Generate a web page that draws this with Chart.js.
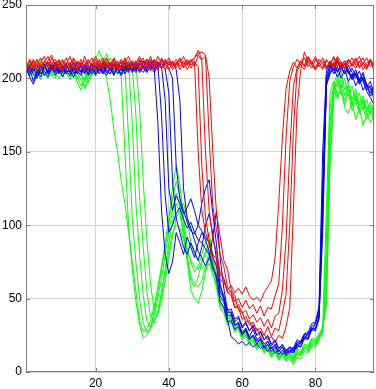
<!DOCTYPE html>
<html>
<head>
<meta charset="utf-8">
<script src="https://cdn.jsdelivr.net/npm/chart.js@4/dist/chart.umd.min.js"></script>
<style>
  html, body { margin: 0; padding: 0; background: #fff; }
  #wrap { width: 376px; height: 389px; }
</style>
</head>
<body>
<div id="wrap"><canvas id="chart"></canvas></div>
<script>
// x runs 1..96, one value per sample
const xTicks = [20, 40, 60, 80];
const yTicks = [0, 50, 100, 150, 200, 250];

// red group
const red1 = [208,212,206,210,214,207,211,205,209,213, 206,210,215,208,204,211,207,213,209,205, 210,214,207,211,206,209,213,208,212,206, 210,215,208,211,205,209,212,207,210,214, 208,211,206,210,213,209,212,150,110,95, 88,78,73,63,61,56,59,54,57,53, 58,52,49,51,48,54,58,62,78,115, 160,193,205,211,207,212,208,214,209,206, 211,207,213,209,215,208,211,206,212,209, 213,207,210,214,208,211];
const red2 = [211,207,213,209,205,212,208,214,210,206, 212,208,205,213,210,207,215,209,206,211, 207,212,209,205,213,210,206,211,215,208, 212,207,210,213,208,211,206,214,209,212, 206,210,214,208,212,207,211,208,140,105, 90,80,77,66,63,54,55,48,50,44, 49,43,46,40,45,38,44,43,52,60, 100,160,198,208,213,209,206,212,210,215, 208,212,207,211,209,214,206,210,213,208, 211,215,209,206,212,208];
const red3 = [205,210,208,213,207,211,215,209,206,212, 209,214,207,211,208,213,206,210,214,208, 213,206,211,209,214,207,212,210,205,211, 208,213,206,210,215,208,211,207,213,209, 212,207,211,215,209,213,208,216,212,150, 110,90,82,68,64,54,52,44,46,40, 42,36,39,34,37,31,36,30,38,40, 56,90,150,195,207,212,209,215,211,207, 213,210,206,212,208,215,211,207,210,214, 209,212,206,210,213,207];
const red4 = [210,206,212,208,211,215,207,210,213,208, 205,211,209,214,207,210,212,206,211,215, 209,207,213,210,208,212,206,214,209,211, 206,210,214,207,212,209,215,210,206,211, 209,213,208,212,206,211,214,219,213,215, 160,113,97,80,72,58,54,44,44,36, 38,32,34,28,30,25,31,24,30,28, 40,53,100,165,205,210,214,208,212,206, 210,214,208,211,207,213,209,212,206,210, 214,208,211,207,213,209];
const red5 = [207,213,209,205,210,208,212,216,207,210, 213,207,211,206,212,209,205,212,208,213, 206,210,214,208,211,206,209,213,207,212, 210,206,211,209,213,207,210,212,208,206, 211,209,213,207,210,212,214,217,218,216, 200,150,108,92,76,70,56,52,42,41, 34,35,28,30,24,26,22,24,20,25, 23,31,44,110,180,206,218,211,207,213, 209,206,212,210,214,208,211,207,213,210, 207,211,214,208,212,205];

// blue group
const blue1 = [203,207,198,205,209,202,206,210,204,208, 201,206,210,203,207,205,209,202,206,204, 208,203,207,210,204,206,209,203,207,205, 210,204,208,206,211,207,170,110,80,67, 75,95,88,80,92,85,78,88,95,90, 82,72,64,48,44,34,35,29,31,25, 29,23,25,21,22,17,21,16,18,14, 17,13,16,15,20,21,26,25,31,33, 45,150,205,210,203,208,200,206,198,203, 195,200,192,196,188,192];
const blue2 = [207,201,196,203,208,205,201,207,211,205, 208,203,206,211,205,202,208,206,210,203, 205,209,204,207,202,210,205,208,204,211, 206,209,212,205,208,204,209,175,120,95, 100,108,112,104,98,102,95,90,88,84, 80,70,66,52,48,36,24,22,19,21, 18,20,17,19,16,18,14,17,13,15, 12,15,13,17,16,21,22,27,28,33, 40,120,200,207,211,205,209,203,206,200, 204,197,201,194,198,190];
const blue3 = [205,209,203,200,206,210,204,208,202,207, 204,209,205,201,207,210,204,208,203,206, 210,205,202,208,211,206,203,209,205,207, 204,210,207,213,209,206,211,208,185,125, 110,120,115,108,112,118,110,100,96,92, 88,78,72,55,50,40,41,34,37,30, 33,28,31,25,27,22,24,18,21,16, 18,15,17,14,20,19,25,23,29,30, 38,110,198,206,210,204,208,212,205,201, 206,199,203,196,193,186];
const blue4 = [209,204,207,202,206,209,203,207,205,210, 206,203,208,205,211,207,203,209,206,202, 207,211,205,203,209,207,202,206,210,204, 208,205,209,211,206,212,208,210,206,190, 130,105,95,85,80,88,82,76,85,100, 108,94,77,58,52,42,43,36,38,31, 34,28,32,25,28,22,25,19,22,16, 19,14,17,16,22,20,26,27,33,34, 42,130,202,209,205,211,207,203,209,204, 200,205,198,192,195,188];
const blue5 = [204,208,205,209,203,207,211,206,209,204, 209,205,202,207,209,204,210,205,207,209, 203,207,210,206,203,208,211,205,209,206, 211,207,204,208,212,209,206,213,210,207, 200,140,118,110,102,96,94,100,115,125, 131,108,87,60,50,38,39,32,34,27, 30,24,29,22,24,19,21,16,19,14, 17,12,15,13,18,17,23,22,29,28, 36,105,196,204,208,212,206,210,203,207, 202,198,204,195,190,194];
const blue6 = [206,202,209,206,201,208,205,209,207,203, 207,210,204,208,203,209,206,203,210,207, 206,204,209,205,210,203,207,211,206,210, 205,212,208,204,209,213,210,207,212,209, 211,206,185,125,105,98,90,82,78,72, 78,92,110,78,57,42,40,32,33,26, 28,22,25,19,23,16,19,14,17,12, 15,11,14,13,19,17,24,23,30,29, 37,95,195,203,207,201,206,210,204,199, 203,196,200,191,187,182];

// green group
const green1 = [205,209,202,207,211,204,200,206,210,203, 207,204,199,205,201,195,198,204,208,213, 219,210,200,185,165,150,130,115,95,75, 55,35,27,29,35,45,58,72,88,105, 125,141,128,105,85,75,68,72,80,88, 95,80,62,46,44,36,38,30,33,26, 29,22,25,18,21,15,18,13,16,11, 14,10,12,8,13,12,16,15,20,19, 24,30,110,190,198,188,195,182,190,178, 185,176,180,172,178,170];
const green2 = [208,203,210,205,199,207,203,209,204,200, 205,210,203,207,197,192,200,206,202,209, 205,211,217,208,204,206,201,150,100,70, 48,32,23,25,30,42,55,70,85,100, 118,130,120,100,80,62,58,65,74,82, 88,74,60,44,42,34,36,28,30,23, 26,20,22,16,19,13,16,11,14,9, 12,7,9,5,10,9,14,13,18,17, 22,28,90,180,195,186,192,180,176,185, 172,180,168,176,170,174];
const green3 = [203,207,211,204,208,202,206,211,207,203, 209,205,201,208,204,199,194,201,207,210, 206,212,209,203,207,210,205,208,160,105, 75,50,33,27,30,38,50,64,80,95, 110,122,112,95,75,56,50,47,55,68, 78,68,57,43,40,32,34,27,29,22, 25,18,21,15,18,13,15,10,13,8, 11,9,10,7,12,11,16,14,19,18, 23,26,70,170,192,200,190,185,193,181, 188,178,184,175,180,173];
const green4 = [210,205,207,212,203,209,205,201,208,212, 203,207,211,204,200,206,193,198,205,211, 208,203,210,214,206,203,209,205,211,170, 115,80,52,35,30,33,42,55,70,88, 102,115,108,92,78,65,60,58,62,72, 82,73,64,48,44,36,37,29,31,24, 27,20,23,17,20,14,17,11,14,9, 13,8,11,9,14,12,17,16,21,20, 24,27,60,160,196,203,194,200,188,195, 184,190,179,186,176,182];
const green5 = [206,211,204,208,213,206,210,204,200,207, 211,206,204,210,203,208,205,197,203,207, 212,207,204,209,213,208,203,210,206,209, 175,120,85,55,38,35,40,52,68,82, 95,100,98,90,82,76,72,70,75,80, 86,76,67,50,47,38,39,31,33,26, 29,22,25,18,21,15,18,13,15,10, 13,11,12,10,15,13,18,17,22,21, 25,29,50,150,190,197,205,192,198,186, 193,182,188,179,184,177];
const green6 = [209,204,208,201,205,210,207,203,209,205, 201,208,205,200,207,203,199,206,210,205, 209,205,211,207,202,210,207,204,209,205, 210,180,130,90,60,42,40,48,62,78, 92,105,110,115,105,88,80,76,72,70, 74,66,60,46,44,36,38,30,32,25, 28,21,24,18,20,14,17,12,15,10, 12,8,13,11,16,14,19,18,23,22, 26,30,45,140,185,193,199,188,195,183, 190,180,186,177,182,175];

const groups = [
  { color: '#ff0000', lines: [red1, red2, red3, red4, red5] },
  { color: '#0000ff', lines: [blue1, blue2, blue3, blue4, blue5, blue6] },
  { color: '#00ff00', lines: [green1, green2, green3, green4, green5, green6] }
];

const datasets = [];
groups.forEach(g => {
  g.lines.forEach(vals => {
    datasets.push({
      data: vals.map((v, i) => ({ x: i + 1, y: v })),
      borderColor: g.color,
      borderWidth: 1,
      pointRadius: 0,
      tension: 0,
      fill: false
    });
  });
});

// matlab style box with inward tick marks
const boxPlugin = {
  id: 'box',
  afterDraw(chart) {
    const { ctx, chartArea: a, scales } = chart;
    ctx.save();
    ctx.strokeStyle = '#7f7f7f';
    ctx.lineWidth = 1;
    ctx.strokeRect(a.left + 0.5, a.top + 0.5, a.right - a.left - 1, a.bottom - a.top - 1);
    ctx.beginPath();
    xTicks.forEach(v => {
      const px = Math.round(scales.x.getPixelForValue(v)) + 0.5;
      ctx.moveTo(px, a.bottom); ctx.lineTo(px, a.bottom - 4);
      ctx.moveTo(px, a.top); ctx.lineTo(px, a.top + 4);
    });
    yTicks.forEach(v => {
      const py = Math.round(scales.y.getPixelForValue(v)) + 0.5;
      ctx.moveTo(a.left, py); ctx.lineTo(a.left + 4, py);
      ctx.moveTo(a.right, py); ctx.lineTo(a.right - 4, py);
    });
    ctx.stroke();
    ctx.restore();
  }
};

new Chart(document.getElementById('chart'), {
  type: 'line',
  data: { datasets: datasets },
  options: {
    responsive: true,
    maintainAspectRatio: false,
    animation: false,
    events: [],
    layout: { padding: { top: 5, right: 2, left: 0, bottom: 0 } },
    plugins: { legend: { display: false }, tooltip: { enabled: false } },
    scales: {
      x: {
        type: 'linear',
        min: 1,
        max: 96,
        afterBuildTicks: s => { s.ticks = xTicks.map(v => ({ value: v })); },
        afterFit: s => { s.height = 17; s.paddingLeft = 0; s.paddingRight = 0; },
        grid: { color: '#d4d4d4', borderDash: [1, 2], drawTicks: false },
        border: { display: false },
        ticks: { color: '#000', padding: 4, font: { family: 'Liberation Sans, Arial', size: 12 } }
      },
      y: {
        type: 'linear',
        min: 0,
        max: 250,
        afterBuildTicks: s => { s.ticks = yTicks.map(v => ({ value: v })); },
        afterFit: s => { s.width = 26; s.paddingTop = 0; s.paddingBottom = 0; },
        grid: { color: '#d4d4d4', borderDash: [1, 2], drawTicks: false },
        border: { display: false },
        ticks: { color: '#000', padding: 4, font: { family: 'Liberation Sans, Arial', size: 12 } }
      }
    }
  },
  plugins: [boxPlugin]
});
</script>
</body>
</html>
